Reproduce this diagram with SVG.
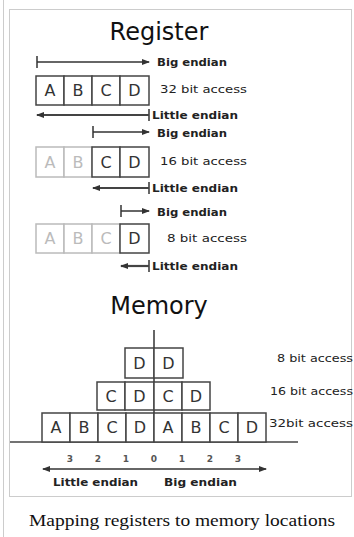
<svg xmlns="http://www.w3.org/2000/svg" width="354" height="537" viewBox="0 0 354 537">
<defs>
<marker id="ah" markerUnits="userSpaceOnUse" markerWidth="8" markerHeight="6" refX="7" refY="3" orient="auto-start-reverse">
<path d="M0,0 L8,3 L0,6 z" fill="#333"/>
</marker>
<style>
.frame{fill:#fff;stroke:#ccc;stroke-width:1}
.title{font-family:"DejaVu Sans",sans-serif;font-size:24px;fill:#111}
.lbl{font-family:"DejaVu Sans",sans-serif;font-size:11px;font-weight:bold;fill:#222}
.acc{font-family:"DejaVu Sans",sans-serif;font-size:11px;fill:#222}
.macc{font-family:"DejaVu Sans",sans-serif;font-size:10px;fill:#222}
.num{font-family:"DejaVu Sans",sans-serif;font-size:9px;font-weight:bold;fill:#555;text-anchor:middle}
.cell{fill:#fff;stroke:#444;stroke-width:1.5}
.cellg{fill:#fff;stroke:#bbb;stroke-width:1.5}
.let{font-family:"DejaVu Sans",sans-serif;font-size:16px;fill:#333;text-anchor:middle}
.letg{font-family:"DejaVu Sans",sans-serif;font-size:16px;fill:#bbb;text-anchor:middle}
.big{stroke:#333;stroke-width:1.5;fill:none}
.little{stroke:#444;stroke-width:2.2;fill:none}
.tick{stroke:#333;stroke-width:1.5}
.cap{font-family:"Liberation Serif",serif;font-size:17px;fill:#111}
</style>
</defs>
<line x1="3.5" y1="0" x2="3.5" y2="537" stroke="#ccc"/>
<rect class="frame" x="9.5" y="9.5" width="342" height="487"/>

<g id="register-title"><text class="title" x="159" y="40" text-anchor="middle">Register</text></g>

<g id="connectors">
<!-- row 1 -->
<line class="tick" x1="37" y1="56" x2="37" y2="68"/>
<line class="big" x1="37" y1="62" x2="149" y2="62" marker-end="url(#ah)"/>
<line class="tick" x1="149" y1="109" x2="149" y2="121"/>
<line class="little" x1="149" y1="115" x2="37" y2="115" marker-end="url(#ah)"/>
<!-- row 2 -->
<line class="tick" x1="93" y1="126" x2="93" y2="138"/>
<line class="big" x1="93" y1="132" x2="149" y2="132" marker-end="url(#ah)"/>
<line class="tick" x1="149" y1="182" x2="149" y2="194"/>
<line class="little" x1="149" y1="188" x2="93" y2="188" marker-end="url(#ah)"/>
<!-- row 3 -->
<line class="tick" x1="121" y1="205" x2="121" y2="217"/>
<line class="big" x1="121" y1="211" x2="149" y2="211" marker-end="url(#ah)"/>
<line class="tick" x1="149" y1="260" x2="149" y2="272"/>
<line class="little" x1="149" y1="266" x2="121" y2="266" marker-end="url(#ah)"/>
<!-- memory -->
<line class="big" x1="154" y1="330" x2="154" y2="442"/>
<line stroke="#444" stroke-width="1.5" x1="10" y1="442" x2="298" y2="442"/>
<line class="big" x1="43" y1="469" x2="266" y2="469" marker-start="url(#ah)" marker-end="url(#ah)"/>
</g>

<g id="reg32">
<rect class="cell" x="36" y="76" width="28" height="29"/>
<rect class="cell" x="64" y="76" width="28" height="29"/>
<rect class="cell" x="92" y="76" width="28" height="29"/>
<rect class="cell" x="120" y="76" width="29" height="29"/>
<text class="let" x="50" y="96">A</text><text class="let" x="78" y="96">B</text><text class="let" x="106" y="96">C</text><text class="let" x="134.5" y="96">D</text>
</g>
<g id="reg32-labels">
<text class="lbl" x="157" y="66" textLength="70" lengthAdjust="spacingAndGlyphs">Big endian</text>
<text class="acc" x="160" y="93" textLength="87" lengthAdjust="spacingAndGlyphs">32 bit access</text>
<text class="lbl" x="152" y="119" textLength="86" lengthAdjust="spacingAndGlyphs">Little endian</text>
</g>

<g id="reg16">
<rect class="cellg" x="36" y="147" width="28" height="30"/>
<rect class="cellg" x="64" y="147" width="28" height="30"/>
<rect class="cell" x="92" y="147" width="28" height="30"/>
<rect class="cell" x="120" y="147" width="29" height="30"/>
<text class="letg" x="50" y="168">A</text><text class="letg" x="78" y="168">B</text><text class="let" x="106" y="168">C</text><text class="let" x="134.5" y="168">D</text>
</g>
<g id="reg16-labels">
<text class="lbl" x="157" y="137" textLength="70" lengthAdjust="spacingAndGlyphs">Big endian</text>
<text class="acc" x="160" y="165" textLength="87" lengthAdjust="spacingAndGlyphs">16 bit access</text>
<text class="lbl" x="152" y="192" textLength="86" lengthAdjust="spacingAndGlyphs">Little endian</text>
</g>

<g id="reg8">
<rect class="cellg" x="36" y="224" width="28" height="29"/>
<rect class="cellg" x="64" y="224" width="28" height="29"/>
<rect class="cellg" x="92" y="224" width="28" height="29"/>
<rect class="cell" x="120" y="224" width="29" height="29"/>
<text class="letg" x="50" y="244">A</text><text class="letg" x="78" y="244">B</text><text class="letg" x="106" y="244">C</text><text class="let" x="134.5" y="244">D</text>
</g>
<g id="reg8-labels">
<text class="lbl" x="157" y="216" textLength="70" lengthAdjust="spacingAndGlyphs">Big endian</text>
<text class="acc" x="167" y="242" textLength="80" lengthAdjust="spacingAndGlyphs">8 bit access</text>
<text class="lbl" x="152" y="270" textLength="86" lengthAdjust="spacingAndGlyphs">Little endian</text>
</g>

<g id="memory-title"><text class="title" x="159" y="314" text-anchor="middle">Memory</text></g>

<g id="mem8">
<rect class="cell" x="125" y="348" width="29" height="30"/>
<rect class="cell" x="154" y="348" width="29" height="30"/>
<text class="let" x="139.5" y="369">D</text><text class="let" x="168.5" y="369">D</text>
<text class="macc" x="277" y="362" textLength="76" lengthAdjust="spacingAndGlyphs">8 bit access</text>
</g>

<g id="mem16">
<rect class="cell" x="97" y="382" width="28" height="28"/>
<rect class="cell" x="125" y="382" width="29" height="28"/>
<rect class="cell" x="154" y="382" width="28" height="28"/>
<rect class="cell" x="182" y="382" width="28" height="28"/>
<text class="let" x="111" y="402">C</text><text class="let" x="139.5" y="402">D</text><text class="let" x="168" y="402">C</text><text class="let" x="196" y="402">D</text>
<text class="macc" x="270" y="395" textLength="83" lengthAdjust="spacingAndGlyphs">16 bit access</text>
</g>

<g id="mem32">
<rect class="cell" x="42" y="413" width="28" height="29"/>
<rect class="cell" x="70" y="413" width="28" height="29"/>
<rect class="cell" x="98" y="413" width="28" height="29"/>
<rect class="cell" x="126" y="413" width="28" height="29"/>
<rect class="cell" x="154" y="413" width="28" height="29"/>
<rect class="cell" x="182" y="413" width="28" height="29"/>
<rect class="cell" x="210" y="413" width="28" height="29"/>
<rect class="cell" x="238" y="413" width="28" height="29"/>
<text class="let" x="56" y="433">A</text><text class="let" x="84" y="433">B</text><text class="let" x="112" y="433">C</text><text class="let" x="140" y="433">D</text>
<text class="let" x="168" y="433">A</text><text class="let" x="196" y="433">B</text><text class="let" x="224" y="433">C</text><text class="let" x="252" y="433">D</text>
<text class="macc" x="269" y="427" textLength="84" lengthAdjust="spacingAndGlyphs">32bit access</text>
</g>

<g id="mem-axis">
<text class="num" x="70" y="462">3</text><text class="num" x="98" y="462">2</text><text class="num" x="126" y="462">1</text><text class="num" x="154" y="462">0</text>
<text class="num" x="182" y="462">1</text><text class="num" x="210" y="462">2</text><text class="num" x="238" y="462">3</text>
<text class="lbl" x="53" y="486" textLength="85" lengthAdjust="spacingAndGlyphs">Little endian</text>
<text class="lbl" x="164" y="486" textLength="73" lengthAdjust="spacingAndGlyphs">Big endian</text>
</g>

<g id="caption"><text class="cap" x="29" y="526" textLength="306" lengthAdjust="spacingAndGlyphs">Mapping registers to memory locations</text></g>
</svg>
